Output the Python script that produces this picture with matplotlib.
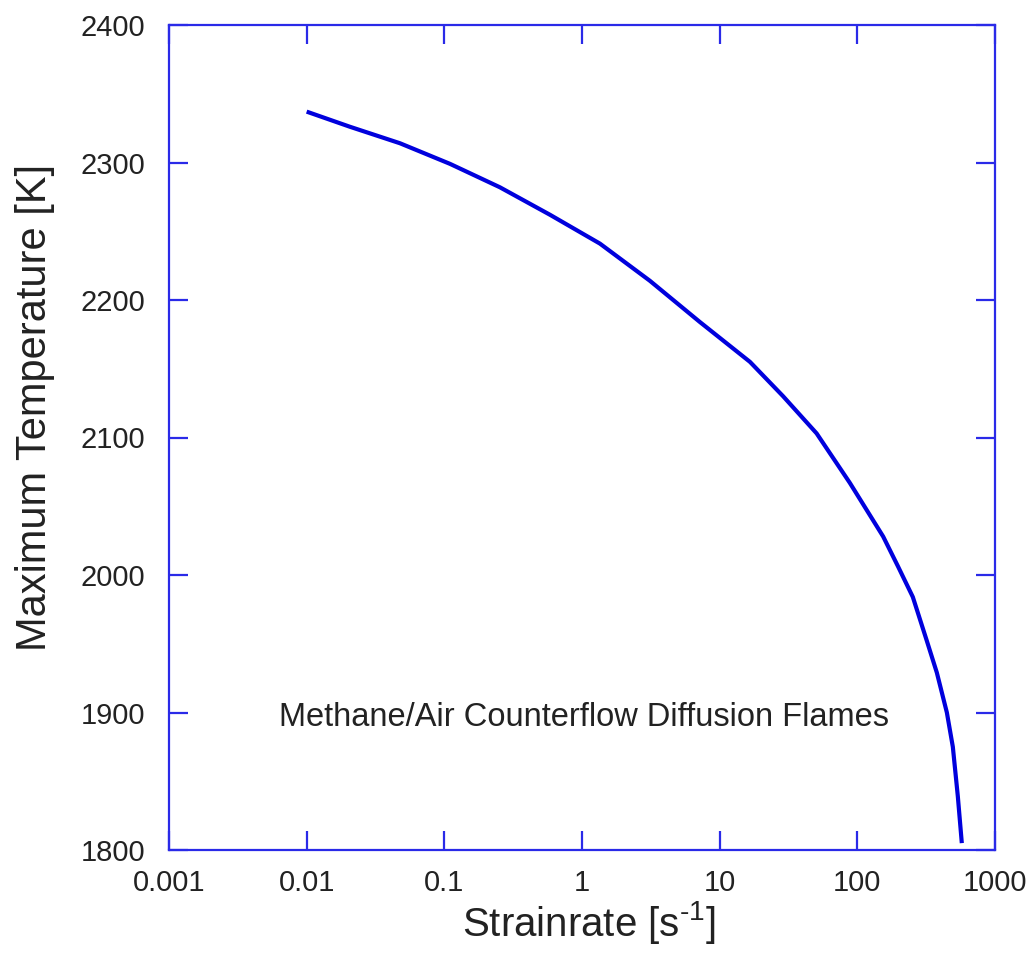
import matplotlib
matplotlib.use("Agg")
import matplotlib.pyplot as plt
from matplotlib.ticker import FixedLocator, FixedFormatter, NullLocator

# Data
strain_rate = [0.01, 0.0206, 0.0476, 0.11, 0.253, 0.585, 1.35, 3.11, 7.18,
               16.6, 28.9, 50.6, 88.2, 154.0, 198.0, 253.0, 320.0, 378.0,
               447.0, 494.0, 537.0, 574.0]
max_temp = [2337, 2326, 2314, 2299, 2282, 2262, 2241, 2214, 2184,
            2155, 2130, 2103, 2067, 2028, 2006, 1984, 1952, 1929,
            1900, 1875, 1839, 1805]
x_ticks = [0.001, 0.01, 0.1, 1, 10, 100, 1000]
x_tick_labels = ["0.001", "0.01", "0.1", "1", "10", "100", "1000"]
y_ticks = [1800, 1900, 2000, 2100, 2200, 2300, 2400]
y_tick_labels = [str(v) for v in y_ticks]

plt.rcParams['font.family'] = ['Liberation Sans', 'DejaVu Sans']
plt.rcParams['mathtext.fontset'] = 'custom'
plt.rcParams['mathtext.rm'] = 'Liberation Sans'

fig = plt.figure(figsize=(10.29, 9.56), dpi=100)
ax = fig.add_axes([169/1029, 1 - 850/956, (995-169)/1029, (850-25)/956])

line_color = '#0000dd'
spine_color = '#2a2ae8'
text_color = '#222222'

ax.plot(strain_rate, max_temp, color=line_color, lw=3.0, solid_capstyle='butt',
        solid_joinstyle='round')
ax.set_xscale('log')
ax.set_xlim(0.001, 1000)
ax.set_ylim(1800, 2400)

ax.xaxis.set_major_locator(FixedLocator(x_ticks))
ax.xaxis.set_major_formatter(FixedFormatter(x_tick_labels))
ax.xaxis.set_minor_locator(NullLocator())
ax.yaxis.set_major_locator(FixedLocator(y_ticks))
ax.yaxis.set_major_formatter(FixedFormatter(y_tick_labels))

for s in ax.spines.values():
    s.set_color(spine_color)
    s.set_linewidth(1.6)

ax.tick_params(axis='both', which='major', direction='in', length=14, width=1.6,
               color=spine_color, labelcolor=text_color, labelsize=21,
               top=True, right=True)
ax.tick_params(axis='y', pad=17)
ax.tick_params(axis='x', pad=14)

ax.set_xlabel(r"Strainrate [s$^{\text{-1}}$]", fontsize=29, color=text_color)
ax.set_ylabel("Maximum Temperature [K]", fontsize=30, color=text_color)
ax.xaxis.set_label_coords((589 - 169) / 826, (850 - 922) / 825)
ax.yaxis.set_label_coords((35 - 169) / 826, (850 - 407) / 825)
ax.yaxis.label.set_va('center')
ax.xaxis.label.set_va('center')

ax.text((584 - 169) / (995 - 169), (850 - 718) / 825,
        "Methane/Air Counterflow Diffusion Flames", transform=ax.transAxes,
        ha='center', va='center', fontsize=23.5, color=text_color)

fig.savefig("out.png", dpi=100)
